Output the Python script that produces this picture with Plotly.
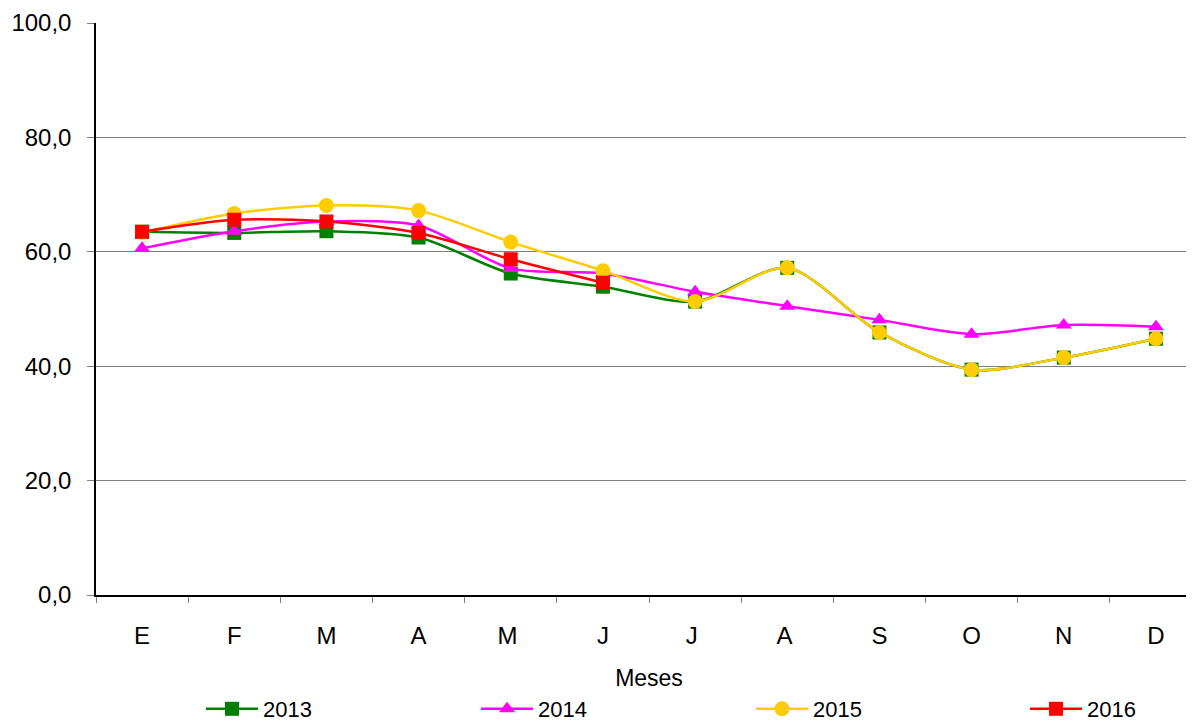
import plotly.graph_objects as go

meses = ["E", "F", "M", "A", "M ", "J", "J ", "A ", "S", "O", "N", "D"]

v2013 = [63.5, 63.3, 63.6, 62.5, 56.2, 53.9, 51.3, 57.2, 45.9, 39.4, 41.5, 44.8]
v2014 = [60.6, 63.6, 65.3, 64.6, 57.1, 56.2, 53.0, 50.5, 48.1, 45.6, 47.2, 46.9]
v2015 = [63.4, 66.7, 68.1, 67.2, 61.7, 56.7, 51.3, 57.2, 45.9, 39.4, 41.5, 44.8]
v2016 = [63.5, 65.6, 65.3, 63.3, 58.7, 54.6]

series = [
    ("2013", v2013, "#008000", "square", 14),
    ("2014", v2014, "#FF00FF", "triangle-up", 14),
    ("2015", v2015, "#FFCC00", "circle", 15),
    ("2016", v2016, "#FF0000", "square", 14),
]

# one small legend per series so they can sit apart along the bottom
legend_x = [193, 468, 743, 1017]

fig = go.Figure()
legends = {}
for i, (name, vals, color, symbol, size) in enumerate(series):
    lname = "legend" if i == 0 else f"legend{i + 1}"
    fig.add_trace(go.Scatter(
        x=meses[:len(vals)],
        y=vals,
        name=name,
        legend=lname,
        mode="lines+markers",
        line=dict(color=color, width=2.5, shape="spline", smoothing=0.8),
        marker=dict(symbol=symbol, size=size, color=color),
    ))
    legends[lname] = dict(
        xref="container", yref="container",
        x=legend_x[i] / 1194, xanchor="left",
        y=1 - 701 / 721, yanchor="middle",
        itemwidth=52,
        font=dict(size=22),
        bgcolor="rgba(0,0,0,0)",
    )

# page body adds 8px, so margins are 8px smaller than on screen
fig.update_layout(
    width=1194,
    height=721,
    margin=dict(l=88, r=0, t=15, b=134, autoexpand=False),
    paper_bgcolor="white",
    plot_bgcolor="white",
    separators=",.",
    font=dict(family="Liberation Sans, Arial, sans-serif", color="black", size=22),
    showlegend=True,
    **legends,
)

fig.update_xaxes(
    type="category",
    categoryorder="array",
    categoryarray=meses,
    range=[-0.5, 11.5],
    tickson="boundaries",
    ticks="outside",
    ticklen=6,
    tickcolor="#808080",
    ticklabelstandoff=18,
    tickangle=0,
    showgrid=False,
    showline=True,
    linecolor="black",
    linewidth=1.5,
    tickfont=dict(size=24),
    title=dict(text="Meses", font=dict(size=23), standoff=22),
)

fig.update_yaxes(
    range=[0, 100],
    dtick=20,
    tickformat=".1f",
    ticks="outside",
    ticklen=7,
    tickcolor="#808080",
    ticklabelstandoff=11,
    showgrid=True,
    gridcolor="#808080",
    gridwidth=1,
    zeroline=False,
    showline=True,
    linecolor="black",
    linewidth=1.5,
    tickfont=dict(size=24),
)

fig.write_html("out.html")
